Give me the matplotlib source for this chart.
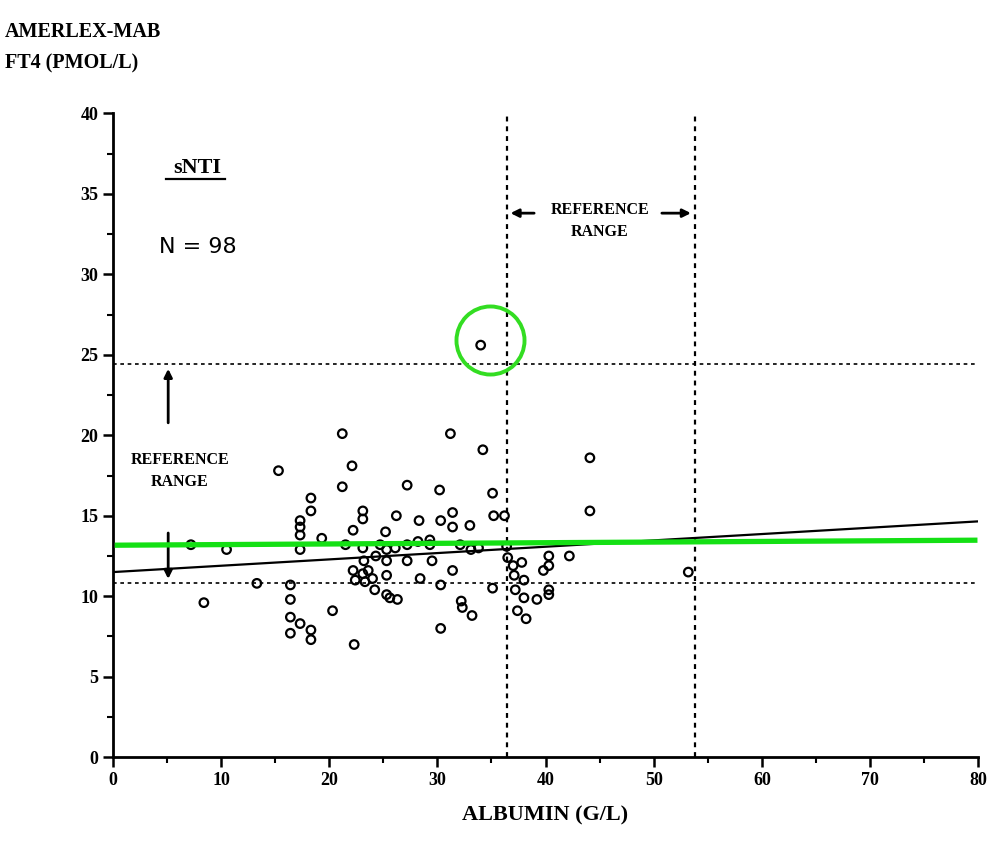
import numpy as np
import matplotlib.pyplot as plt

## DATA
albumin = [7.2, 10.5, 8.4, 13.3, 15.3,
           16.4, 16.4, 16.4, 16.4, 17.3, 17.3, 17.3, 17.3, 17.3,
           18.3, 18.3, 18.3, 18.3, 19.3, 20.3, 21.2, 21.2, 21.5, 22.1,
           22.2, 22.2, 22.4, 22.3, 23.1, 23.1, 23.1, 23.1, 23.3, 23.6,
           24.0, 24.2, 24.7, 25.2, 25.3, 25.3, 25.3, 25.3, 25.6, 26.2,
           26.3, 27.2, 27.2, 27.2, 28.3, 28.4, 29.3, 29.3, 29.5, 30.2,
           30.3, 30.3, 30.3, 31.2, 31.4, 31.4, 31.4, 32.2, 32.3, 33.0,
           33.1, 33.2, 34.0, 34.2, 35.1, 35.2, 36.2, 35.1, 36.4, 37.0,
           37.1, 37.2, 37.4, 37.8, 38.0, 38.0, 38.2, 39.2, 40.3, 40.3,
           40.3, 40.3, 42.2, 44.1, 44.1, 53.2,
           24.3, 26.1, 28.2, 32.1, 33.8, 36.5, 23.2, 39.8]
ft4 = [13.2, 12.9, 9.6, 10.8, 17.8,
       10.7, 9.8, 8.7, 7.7, 14.7, 14.3, 13.8, 12.9, 8.3,
       16.1, 15.3, 7.9, 7.3, 13.6, 9.1, 20.1, 16.8, 13.2, 18.1,
       14.1, 11.6, 11.0, 7.0, 15.3, 14.8, 13.0, 11.4, 10.9, 11.6,
       11.1, 10.4, 13.2, 14.0, 12.9, 12.2, 11.3, 10.1, 9.9, 15.0,
       9.8, 16.9, 13.2, 12.2, 14.7, 11.1, 13.2, 13.5, 12.2, 16.6,
       14.7, 10.7, 8.0, 20.1, 15.2, 14.3, 11.6, 9.7, 9.3, 14.4,
       12.9, 8.8, 25.6, 19.1, 16.4, 15.0, 15.0, 10.5, 13.1, 11.9,
       11.3, 10.4, 9.1, 12.1, 11.0, 9.9, 8.6, 9.8, 12.5, 11.9,
       10.4, 10.1, 12.5, 18.6, 15.3, 11.5,
       12.5, 13.0, 13.4, 13.2, 13.0, 12.4, 12.2, 11.6]

# reference ranges
ft4_range = [10.8, 24.4]
albumin_range = [36.4, 53.8]

# regression line (black) and flat green line
reg_x = [0, 80]
reg_y = [11.5, 14.65]
green_x = [0.4, 79.7]
green_y = [13.17, 13.48]

# circled outlier
outlier = (34.9, 25.9)

## PLOT
plt.rcParams['font.family'] = ['Liberation Serif', 'DejaVu Serif']
fig = plt.figure(figsize=(9.96, 8.46), dpi=100)
ax = fig.add_axes([0.1135, 0.105, 0.8685, 0.761])

dot = (0, (2.2, 2.2))
for y in ft4_range:
    ax.plot([0, 80], [y, y], color='black', lw=1.2, ls=dot)
for x in albumin_range:
    ax.plot([x, x], [0, 40], color='black', lw=1.6, ls=dot)

ax.plot(reg_x, reg_y, color='black', lw=1.6)
ax.scatter(albumin, ft4, s=38, facecolors='none', edgecolors='black', linewidths=1.6, zorder=3)
ax.plot(green_x, green_y, color='#14e014', lw=3.8, zorder=4)
ax.plot([outlier[0]], [outlier[1]], marker='o', ms=49, mfc='none', mec='#33dd22', mew=2.8, zorder=5)

# reference range arrows (vertical, left)
arrow = dict(arrowstyle='-|>', color='black', lw=2, mutation_scale=12)
ax.annotate('', xy=(5.1, 24.3), xytext=(5.1, 20.6), arrowprops=arrow)
ax.annotate('', xy=(5.1, 10.9), xytext=(5.1, 14.1), arrowprops=arrow)
ax.text(6.2, 17.8, 'REFERENCE\nRANGE', ha='center', va='center', fontsize=11.5,
        fontweight='bold', linespacing=1.5)

# reference range arrows (horizontal, top)
ax.annotate('', xy=(36.5, 33.8), xytext=(39.2, 33.8), arrowprops=arrow)
ax.annotate('', xy=(53.7, 33.8), xytext=(50.5, 33.8), arrowprops=arrow)
ax.text(45.0, 33.3, 'REFERENCE\nRANGE', ha='center', va='center', fontsize=11.5,
        fontweight='bold', linespacing=1.5)

ax.text(7.8, 36.6, 'sNTI', ha='center', va='center', fontsize=16, fontweight='bold')
ax.plot([4.9, 10.4], [35.95, 35.95], color='black', lw=1.6)
ax.text(7.8, 31.7, 'N = 98', ha='center', va='center', fontsize=16, family='DejaVu Sans')

## AXES
ax.set_xlim(0, 80)
ax.set_ylim(0, 40)
ax.set_xticks(np.arange(0, 81, 10))
ax.set_xticks(np.arange(0, 81, 5), minor=True)
ax.set_yticks(np.arange(0, 41, 5))
ax.set_yticks(np.arange(0, 41, 2.5), minor=True)
ax.spines['top'].set_visible(False)
ax.spines['right'].set_visible(False)
ax.spines['left'].set_linewidth(2)
ax.spines['bottom'].set_linewidth(2)
ax.tick_params(which='major', length=7, width=1.8, labelsize=13)
ax.tick_params(which='minor', length=4, width=1.5)
for lab in ax.get_xticklabels() + ax.get_yticklabels():
    lab.set_fontweight('bold')

ax.set_xlabel('ALBUMIN (G/L)', fontsize=16, fontweight='bold', labelpad=12)
fig.text(0.005, 0.962, 'AMERLEX-MAB', fontsize=14.5, fontweight='bold', va='center')
fig.text(0.005, 0.925, 'FT4 (PMOL/L)', fontsize=14.5, fontweight='bold', va='center')

fig.savefig('out.png', dpi=100)
